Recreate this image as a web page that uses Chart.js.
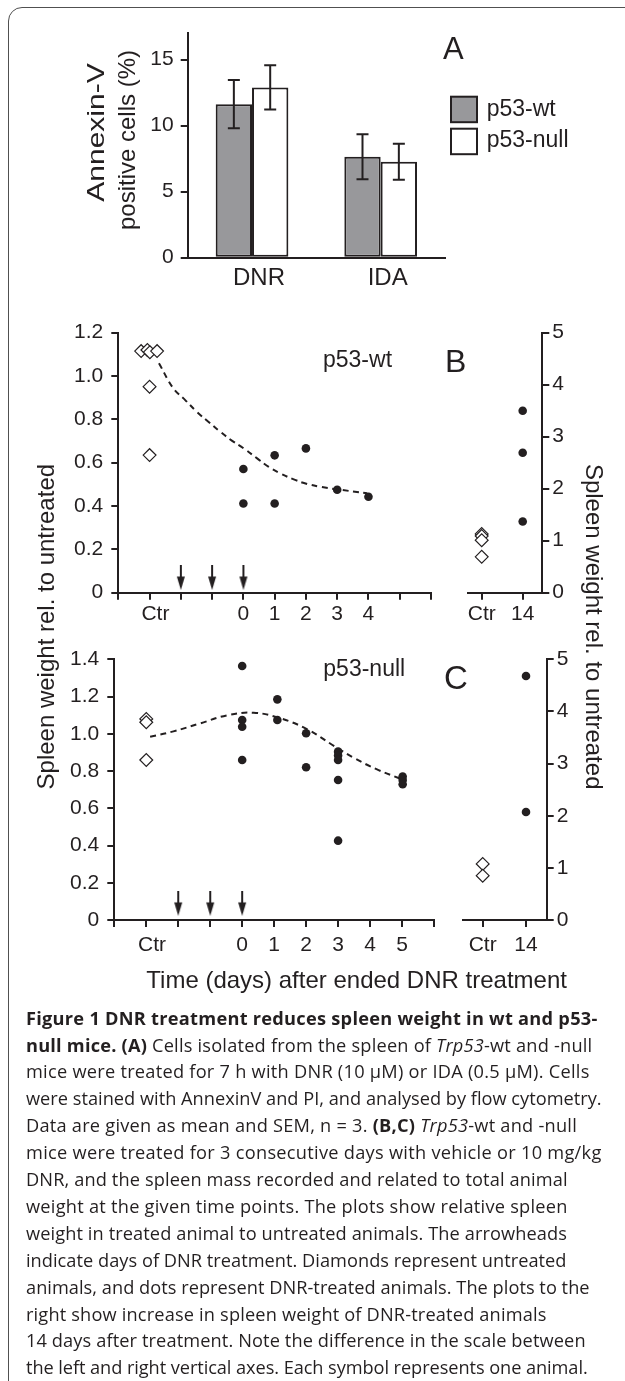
<!DOCTYPE html>
<html>
<head>
<meta charset="utf-8">
<script src="https://cdn.jsdelivr.net/npm/chart.js@4.4.1/dist/chart.umd.min.js"></script>
<style>
html,body{margin:0;padding:0;background:#fff;}
body{width:625px;height:1381px;position:relative;overflow:hidden;}
canvas.full{position:absolute;left:0;top:0;}
#frame{position:absolute;left:8px;top:7px;width:720px;height:1500px;border:1.4px solid #505050;border-radius:14px;box-sizing:border-box;}
#cap{position:absolute;left:0;top:0;font-family:"Open Sans","Noto Sans",sans-serif;color:#231f20;}
#cap .l{position:absolute;left:26px;white-space:nowrap;line-height:26.9px;}
#cap b{font-weight:700;}
</style>
</head>
<body>
<div id="frame"></div>
<canvas id="cA" class="full" width="625" height="1381"></canvas>
<canvas id="cBL" class="full" width="625" height="1381"></canvas>
<canvas id="cBR" class="full" width="625" height="1381"></canvas>
<canvas id="cCL" class="full" width="625" height="1381"></canvas>
<canvas id="cCR" class="full" width="625" height="1381"></canvas>
<div id="cap">
<div class="l"><b>Figure 1 DNR treatment reduces spleen weight in wt and p53-</b></div>
<div class="l"><b>null mice. (A)</b> Cells isolated from the spleen of <i>Trp53</i>-wt and -null</div>
<div class="l">mice were treated for 7 h with DNR (10 μM) or IDA (0.5 μM). Cells</div>
<div class="l">were stained with AnnexinV and PI, and analysed by flow cytometry.</div>
<div class="l">Data are given as mean and SEM, n = 3. <b>(B,C)</b> <i>Trp53</i>-wt and -null</div>
<div class="l">mice were treated for 3 consecutive days with vehicle or 10 mg/kg</div>
<div class="l">DNR, and the spleen mass recorded and related to total animal</div>
<div class="l">weight at the given time points. The plots show relative spleen</div>
<div class="l">weight in treated animal to untreated animals. The arrowheads</div>
<div class="l">indicate days of DNR treatment. Diamonds represent untreated</div>
<div class="l">animals, and dots represent DNR-treated animals. The plots to the</div>
<div class="l">right show increase in spleen weight of DNR-treated animals</div>
<div class="l">14 days after treatment. Note the difference in the scale between</div>
<div class="l">the left and right vertical axes. Each symbol represents one animal.</div>
</div>
<script>
// ---------------- DATA ----------------
// Panel A
const drugLabels = ['DNR', 'IDA'];
const seriesNames = ['p53-wt', 'p53-null'];
const wtMean = [11.63, 7.65];
const wtSem = [1.83, 1.71];
const nullMean = [12.9, 7.27];
const nullSem = [1.68, 1.37];

// Panels B / C left: day axis ticks -4..6
const dayTicks = [-4, -3, -2, -1, 0, 1, 2, 3, 4, 5, 6];
const dayTickLabelsB = ['', '  Ctr', '', '', '0', '1', '2', '3', '4', '', ''];
const dayTickLabelsC = ['', '  Ctr', '', '', '0', '1', '2', '3', '4', '5', ''];
const arrowDays = [-2, -1, 0];
const rightCats = ['Ctr', '14'];

// Panel B (p53-wt)
const bCtrlX = [-3.27, -3.07, -2.99, -2.76, -3, -3];
const bCtrlY = [1.115, 1.12, 1.11, 1.115, 0.951, 0.635];
const bTreatX = [0, 0, 1, 1, 2, 3, 4];
const bTreatY = [0.571, 0.412, 0.634, 0.412, 0.666, 0.475, 0.443];
const bCurveX = [-2.70, -2.24, -1.86, -1.49, -1.12, -0.74, -0.37, 0.01, 0.44, 0.81, 1.18, 1.61, 2.04, 2.46, 3.0, 3.96];
const bCurveY = [1.059, 0.943, 0.889, 0.835, 0.789, 0.743, 0.702, 0.666, 0.620, 0.581, 0.551, 0.523, 0.502, 0.489, 0.477, 0.459];
const bArrowLevel = [0.07, 0.07, 0.07];
const bRightCtrlY = [1.13, 1.09, 1.01, 0.69];
const bRightDay14Y = [3.5, 2.69, 1.37];

// Panel C (p53-null)
const cCtrlX = [-3, -3, -3];
const cCtrlY = [1.08, 1.062, 0.859];
const cTreatX = [0, 0, 0, 0, 1.1, 1.1, 2, 2, 3, 3, 3, 3, 3, 5.02, 5.02, 5.02];
const cTreatY = [1.364, 1.074, 1.038, 0.859, 1.185, 1.074, 1.003, 0.82, 0.904, 0.883, 0.859, 0.752, 0.426, 0.77, 0.752, 0.729];
const cCurveX = [-2.88, -2.15, -1.31, -0.47, 0.36, 1.2, 2.04, 2.88, 3.5, 4.2, 5.0];
const cCurveY = [0.984, 1.013, 1.056, 1.099, 1.113, 1.083, 1.024, 0.934, 0.87, 0.81, 0.755];
const cArrowLevel = [0.089, 0.089, 0.089];
const cRightCtrlY = [1.075, 0.85];
const cRightDay14Y = [4.68, 2.07];

// ---------------- STYLE ----------------
const INK = '#231f20';
const FAM = '"Liberation Sans", Arial, Helvetica, sans-serif';
const TICKFONT = {family: FAM, size: 21};
const W = 625, H = 1381;
Chart.defaults.font.family = FAM;
Chart.defaults.color = INK;

const pts = (xs, ys) => xs.map((x, i) => ({x: x, y: ys[i]}));

function makeArrow() {
  const c = document.createElement('canvas');
  c.width = 10; c.height = 25;
  const g = c.getContext('2d');
  g.strokeStyle = INK; g.fillStyle = INK; g.lineWidth = 2;
  g.beginPath(); g.moveTo(5, 0); g.lineTo(5, 13); g.stroke();
  g.beginPath(); g.moveTo(1, 11.5); g.lineTo(9, 11.5); g.lineTo(5, 25); g.closePath(); g.fill();
  return c;
}
const arrowImg = makeArrow();

function textPlugin(id, items) {
  return {
    id: id,
    afterDraw(chart) {
      const ctx = chart.ctx;
      items.forEach(it => {
        ctx.save();
        ctx.font = (it.weight || '') + ' ' + it.size + 'px ' + FAM;
        ctx.fillStyle = INK;
        ctx.textAlign = it.align || 'left';
        ctx.textBaseline = it.baseline || 'alphabetic';
        ctx.translate(it.x, it.y);
        if (it.rot) ctx.rotate(it.rot);
        if (it.stretch) ctx.scale(it.stretch, 1);
        ctx.fillText(it.text, 0, 0);
        ctx.restore();
      });
    }
  };
}

const baseOpts = (pad) => ({
  responsive: false, animation: false, devicePixelRatio: 1, events: [],
  layout: {padding: pad},
  plugins: {legend: {display: false}, tooltip: {enabled: false}}
});

const gridTicks = {drawOnChartArea: false, drawTicks: true, tickLength: 7, color: INK, lineWidth: 2};
const borderOpt = {display: true, color: INK, width: 2};

// ---------------- PANEL A ----------------
const errorBars = {
  id: 'errorBars',
  afterDatasetsDraw(chart) {
    const ctx = chart.ctx, ys = chart.scales.y;
    const sems = [wtSem, nullSem];
    chart.data.datasets.forEach((ds, di) => {
      chart.getDatasetMeta(di).data.forEach((bar, i) => {
        const v = ds.data[i], s = sems[di][i];
        const t = ys.getPixelForValue(v + s), b = ys.getPixelForValue(v - s);
        ctx.save();
        ctx.strokeStyle = INK; ctx.lineWidth = 2;
        ctx.beginPath();
        ctx.moveTo(bar.x, t); ctx.lineTo(bar.x, b);
        ctx.moveTo(bar.x - 6, t); ctx.lineTo(bar.x + 6, t);
        ctx.moveTo(bar.x - 6, b); ctx.lineTo(bar.x + 6, b);
        ctx.stroke();
        ctx.restore();
      });
    });
  }
};
const legendA = {
  id: 'legendA',
  afterDraw(chart) {
    const ctx = chart.ctx;
    const rows = [{y: 96.7, ty: 116}, {y: 128.7, ty: 146.7}];
    chart.data.datasets.forEach((ds, i) => {
      ctx.save();
      ctx.fillStyle = ds.backgroundColor; ctx.strokeStyle = INK; ctx.lineWidth = 2;
      ctx.fillRect(451, rows[i].y, 26, 25.5);
      ctx.strokeRect(451, rows[i].y, 26, 25.5);
      ctx.fillStyle = INK; ctx.font = '23px ' + FAM; ctx.textBaseline = 'alphabetic';
      ctx.fillText(ds.label, 486.7, rows[i].ty);
      ctx.restore();
    });
  }
};

new Chart(document.getElementById('cA'), {
  type: 'bar',
  data: {
    labels: drugLabels,
    datasets: [
      {label: seriesNames[0], data: wtMean, backgroundColor: '#98989b', borderColor: INK, borderWidth: 2, borderSkipped: false},
      {label: seriesNames[1], data: nullMean, backgroundColor: '#ffffff', borderColor: INK, borderWidth: 2, borderSkipped: false}
    ]
  },
  options: Object.assign(baseOpts({left: 0, top: 33.3, right: W - 445, bottom: H - 257.7 - 40}), {
    datasets: {bar: {categoryPercentage: 0.565, barPercentage: 1}},
    scales: {
      x: {
        grid: {display: false, drawTicks: false}, border: borderOpt,
        ticks: {font: {family: FAM, size: 24}, color: INK, padding: 6, labelOffset: 7, maxRotation: 0},
        afterFit(s) { s.height = 40; }
      },
      y: {
        min: 0, max: 17,
        ticks: {stepSize: 5, includeBounds: false, font: TICKFONT, color: INK, padding: 7},
        grid: gridTicks, border: borderOpt,
        afterFit(s) { s.width = 187.7; }
      }
    }
  }),
  plugins: [errorBars, legendA, textPlugin('tA', [
    {text: 'A', x: 443, y: 58.5, size: 31},
    {text: 'Annexin-V', x: 97, y: 132.5, size: 24, align: 'center', baseline: 'middle', rot: -Math.PI / 2, stretch: 1.25},
    {text: 'positive cells (%)', x: 128, y: 140, size: 24, align: 'center', baseline: 'middle', rot: -Math.PI / 2}
  ])]
});

// ---------------- PANELS B / C ----------------
function leftPanel(id, area, ymax, ctrlX, ctrlY, trX, trY, cvX, cvY, arrowY, tickLabels, labelPad, texts) {
  return new Chart(document.getElementById(id), {
    type: 'scatter',
    data: {
      datasets: [
        {data: pts(cvX, cvY), showLine: true, borderColor: INK, borderWidth: 2, borderDash: [6, 4.5], pointRadius: 0, tension: 0.4, fill: false},
        {data: pts(ctrlX, ctrlY), pointStyle: 'rectRot', pointRadius: 6.4, backgroundColor: '#ffffff', borderColor: INK, borderWidth: 1.2},
        {data: pts(trX, trY), pointStyle: 'circle', pointRadius: 4.3, backgroundColor: INK, borderColor: INK, borderWidth: 0},
        {data: pts(arrowDays, arrowY), pointStyle: arrowImg, pointRadius: 8}
      ]
    },
    options: Object.assign(baseOpts({left: 0, top: area.t, right: W - area.r, bottom: H - area.b - 40}), {
      clip: false,
      scales: {
        x: {
          type: 'linear', min: dayTicks[0], max: dayTicks[dayTicks.length - 1],
          afterBuildTicks(s) { s.ticks = dayTicks.map(v => ({value: v})); },
          ticks: {autoSkip: false, maxRotation: 0, font: TICKFONT, color: INK, padding: labelPad,
            callback: (v, i) => tickLabels[i]},
          grid: gridTicks, border: borderOpt,
          afterFit(s) { s.height = 40; }
        },
        y: {
          min: 0, max: ymax,
          ticks: {stepSize: 0.2, font: TICKFONT, color: INK, padding: 8,
            callback: v => (Math.abs(v) < 1e-9 ? '0' : v.toFixed(1))},
          grid: gridTicks, border: borderOpt,
          afterFit(s) { s.width = area.l; }
        }
      }
    }),
    plugins: [textPlugin(id + 't', texts)]
  });
}

function rightPanel(id, area, xmin, xmax, ctrlY, d14Y, labelPad, texts) {
  return new Chart(document.getElementById(id), {
    type: 'scatter',
    data: {
      datasets: [
        {data: ctrlY.map(y => ({x: 0, y: y})), pointStyle: 'rectRot', pointRadius: 6.4, backgroundColor: '#ffffff', borderColor: INK, borderWidth: 1.2},
        {data: d14Y.map(y => ({x: 1, y: y})), pointStyle: 'circle', pointRadius: 4.3, backgroundColor: INK, borderColor: INK, borderWidth: 0}
      ]
    },
    options: Object.assign(baseOpts({left: area.l, top: area.t, right: 0, bottom: H - area.b - 40}), {
      clip: false,
      scales: {
        x: {
          type: 'linear', min: xmin, max: xmax,
          afterBuildTicks(s) { s.ticks = rightCats.map((c, i) => ({value: i})); },
          ticks: {autoSkip: false, maxRotation: 0, font: TICKFONT, color: INK, padding: labelPad,
            callback: (v, i) => rightCats[i]},
          grid: gridTicks, border: borderOpt,
          afterFit(s) { s.height = 40; }
        },
        y: {
          position: 'right', min: 0, max: 5,
          ticks: {stepSize: 1, font: TICKFONT, color: INK, padding: 3},
          grid: gridTicks, border: borderOpt,
          afterFit(s) { s.width = W - area.r; }
        }
      }
    }),
    plugins: [textPlugin(id + 't', texts)]
  });
}

leftPanel('cBL', {l: 118.3, t: 332.7, r: 431, b: 592.7}, 1.2, bCtrlX, bCtrlY, bTreatX, bTreatY, bCurveX, bCurveY, bArrowLevel, dayTickLabelsB, 1.5, [
  {text: 'p53-wt', x: 323, y: 366.7, size: 23},
  {text: 'B', x: 445, y: 371.7, size: 32}
]);
rightPanel('cBR', {l: 468.3, t: 332.7, r: 542.3, b: 592.7}, -0.327, 1.478, bRightCtrlY, bRightDay14Y, 1.5, []);

leftPanel('cCL', {l: 114.3, t: 659.3, r: 434, b: 920}, 1.4, cCtrlX, cCtrlY, cTreatX, cTreatY, cCurveX, cCurveY, cArrowLevel, dayTickLabelsC, 5.5, [
  {text: 'p53-null', x: 323.3, y: 676, size: 23},
  {text: 'C', x: 444, y: 689, size: 33},
  {text: 'Spleen weight rel. to untreated', x: 47, y: 626.7, size: 24, align: 'center', baseline: 'middle', rot: -Math.PI / 2},
  {text: 'Spleen weight rel. to untreated', x: 593, y: 626.7, size: 24, align: 'center', baseline: 'middle', rot: Math.PI / 2},
  {text: 'Time (days) after ended DNR treatment', x: 356.6, y: 988, size: 24, align: 'center'}
]);
rightPanel('cCR', {l: 462.7, t: 659.3, r: 546.7, b: 920}, -0.462, 1.478, cRightCtrlY, cRightDay14Y, 5.5, []);

// ---------------- CAPTION ----------------
(function () {
  const capLeft = 26, firstCenter = 1018, lineStep = 26.9;
  const lineEnds = [597.6, 592.4, 589.6, 601.6, 577, 601.6, 567.7, 567.7, 567, 566.5, 589.6, 546.6, 585.7, 587.6];
  const lines = document.querySelectorAll('#cap .l');
  const meas = document.createElement('canvas').getContext('2d');
  meas.font = '18px "Open Sans"';
  const w4 = meas.measureText(lines[3].textContent).width;
  const fs = 18 * (lineEnds[3] - capLeft) / w4;
  document.getElementById('cap').style.fontSize = fs.toFixed(2) + 'px';
  lines.forEach((el, i) => {
    el.style.top = (firstCenter + i * lineStep - lineStep / 2).toFixed(1) + 'px';
    el.style.letterSpacing = '0px';
    const w = el.getBoundingClientRect().width;
    const n = el.textContent.length;
    el.style.letterSpacing = ((lineEnds[i] - capLeft - w) / n).toFixed(3) + 'px';
  });
})();
</script>
</body>
</html>
